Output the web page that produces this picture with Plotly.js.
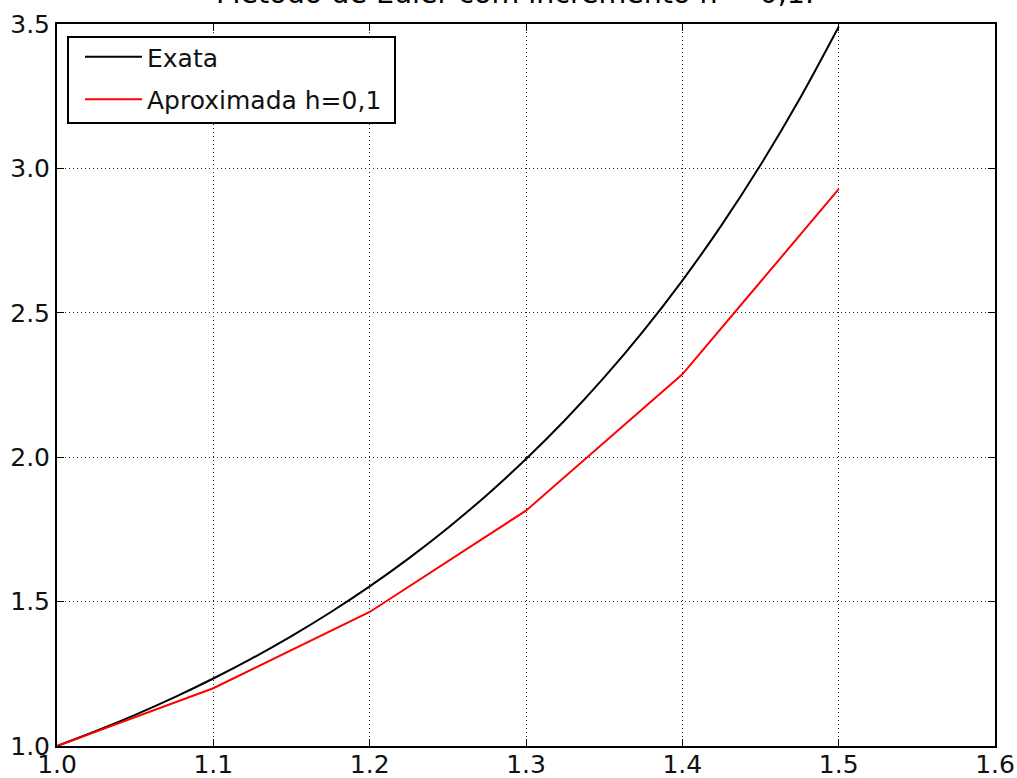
<!DOCTYPE html>
<html>
<head>
<meta charset="utf-8">
<script src="https://cdn.plot.ly/plotly-3.0.1.min.js"></script>
<style>html,body{margin:0;padding:0;background:#fff;}</style>
</head>
<body>
<div id="chart" style="width:1017px;height:778px;"></div>
<script>
// Exact solution sampled along x
const xExact = [1.000, 1.025, 1.050, 1.075, 1.100, 1.125, 1.150, 1.175, 1.200, 1.225, 1.250,
                1.275, 1.300, 1.325, 1.350, 1.375, 1.400, 1.425, 1.450, 1.475, 1.500];
const yExact = [1.0000, 1.0519, 1.1079, 1.1684, 1.2337, 1.3042, 1.3806, 1.4632, 1.5527, 1.6498, 1.7551,
                1.8694, 1.9937, 2.1289, 2.2762, 2.4367, 2.6117, 2.8028, 3.0117, 3.2402, 3.4903];

// Euler steps with h = 0,1
const xEuler = [1.0, 1.1, 1.2, 1.3, 1.4, 1.5];
const yEuler = [1.000, 1.200, 1.464, 1.815, 2.287, 2.928];

const xTicks = [1.0, 1.1, 1.2, 1.3, 1.4, 1.5, 1.6];
const yTicks = [1.0, 1.5, 2.0, 2.5, 3.0, 3.5];

const titleText = 'Método de Euler com incremento h = 0,1.';

const font = 'DejaVu Sans, sans-serif';

// plot area in pixels (used to place the legend frame and heading)
const W = 1017, H = 778, L = 57, R = 22, T = 24, B = 32;
const pw = W - L - R, ph = H - T - B;
const px = v => (v - L) / pw;
const py = v => (H - B - v) / ph;

const traces = [
  {x: xExact, y: yExact, mode: 'lines', name: 'Exata', legendgroup: 'a',
   line: {color: '#000000', width: 2, shape: 'spline'}},
  {x: xEuler, y: yEuler, mode: 'lines', name: 'Aproximada h=0,1', legendgroup: 'b',
   line: {color: '#ff0000', width: 2}}
];

const axisCommon = {
  showline: true, linecolor: '#000', linewidth: 2, mirror: 'ticks',
  ticks: 'inside', ticklen: 7, tickcolor: '#000', tickwidth: 1,
  showgrid: true, gridcolor: '#222', griddash: '1px,3px', gridwidth: 1,
  zeroline: false, tickfont: {family: font, size: 25, color: '#111'}
};

const layout = {
  width: W, height: H,
  margin: {l: L, r: R, t: T, b: B},
  paper_bgcolor: '#fff', plot_bgcolor: '#fff',
  showlegend: true,
  xaxis: Object.assign({}, axisCommon, {range: [1.0, 1.6], tickvals: xTicks, ticktext: xTicks.map(v => v.toFixed(1)),
    ticklabelstandoff: -5}),
  yaxis: Object.assign({}, axisCommon, {range: [1.0, 3.5], tickvals: yTicks, ticktext: yTicks.map(v => v.toFixed(1)),
    ticklabelstandoff: 0}),
  // heading sits partly above the top edge of the page
  annotations: [
    {text: titleText, xref: 'paper', yref: 'paper', x: px(515), y: py(12),
     xanchor: 'center', yanchor: 'bottom', showarrow: false,
     font: {family: font, size: 28.5, color: '#000'}}
  ],
  shapes: [
    {type: 'rect', xref: 'paper', yref: 'paper', layer: 'above',
     x0: px(68), x1: px(395), y0: py(123), y1: py(37),
     line: {color: '#000', width: 2}, fillcolor: 'rgba(255,255,255,1)'}
  ],
  legend: {x: px(80), y: py(34), xanchor: 'left', yanchor: 'top',
    borderwidth: 0, bgcolor: 'rgba(0,0,0,0)',
    font: {family: font, size: 25, color: '#111'}, traceorder: 'grouped', tracegroupgap: 7,
    itemwidth: 57}
};

Plotly.newPlot('chart', traces, layout, {staticPlot: true, displayModeBar: false});
</script>
</body>
</html>
